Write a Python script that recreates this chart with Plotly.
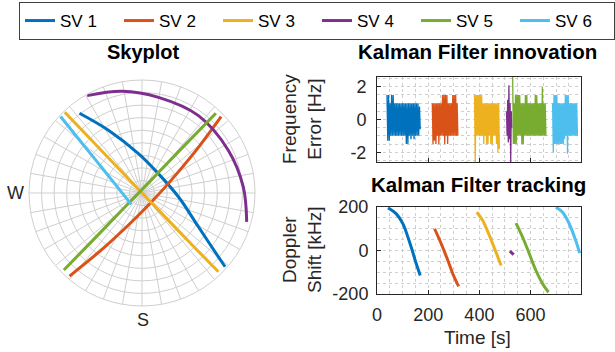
import numpy as np
import plotly.graph_objects as go

W, H = 615, 352
FONT = "Liberation Sans, Arial, Helvetica, sans-serif"
INK = "#262626"
GRID = "#cfcfcf"

names = ["SV 1", "SV 2", "SV 3", "SV 4", "SV 5", "SV 6"]
colors = ["#0072BD", "#D95319", "#EDB120", "#7E2F8E", "#77AC30", "#4DBEEE"]

# ---- Skyplot: azimuth [deg] / elevation [deg] ----
az1 = [321.9, 332.0, 355.2, 30.5, 96.2, 121.0, 129.9, 131.6]
el1 = [9.3, 33.6, 58.7, 69.1, 60.7, 37.5, 10.7, 1.5]
az2 = [221.1, 214.9, 193.7, 134.1, 73.6, 52.2, 46.0]
el2 = [2.2, 36.7, 69.7, 79.6, 69.9, 36.9, 2.4]
az3 = [316.3, 316.3, 316.3, 316.3, 136.0, 136.0, 136.0, 135.9]
el3 = [1.0, 30.0, 60.0, 88.0, 88.0, 60.0, 30.0, 2.6]
az4 = [330.6, 348.9, 9.8, 36.1, 63.8, 86.6, 105.4]
el4 = [1.0, 7.4, 12.7, 13.7, 13.3, 9.2, 3.5]
az5 = [225.4, 226.6, 230.4, 301.6, 37.4, 41.4, 42.8]
el5 = [2.6, 46.1, 72.1, 88.0, 72.9, 46.9, 3.4]
az6 = [313.2, 310.5, 305.3, 290.6, 223.3]
el6 = [1.0, 23.2, 45.1, 65.9, 77.6]

# ---- Kalman filter innovation [Hz] ----
inn_t1 = (39, 169)
inn_v1 = [1.5, -1.3, 1.5, -1.3, 1, -1, 1.5, -1, 1.5, -1, 1, -1, 1, -1, 1, -1, 1, -1, 1, -1, 1, -1,
          1, -1, 1, -1.5, 1, -1.5, 1, -1, 1, -1.2, 1, -1, 1, -1.2, 1, -1, 1, -1, 1, -1, 0.8, -0.6]
inn_t2 = (216, 316)
inn_v2 = [1, -1.5, 1, -1.3, 1, -1.5, 1, -1, 1, -1.5, 1, -1, 1, -1, 1.5, -1, 1.5, -1.5, 1.5, -1,
          1.5, -1.5, 1, -1, 1, -1, 1, -1, 1.5, -1, 1.5, -1, 1.5, -1, 1, -1]
inn_t3 = (381, 478)
inn_v3 = [1.5, -2.6, 1.5, -1, 1.5, -1, 1.5, -1, 1.5, -1, 1.5, -1, 1, -1.5, 1, -1, 1, -1.5, 1, -1.5,
          1, -1, 1, -1.5, 1, -1.5, 1, -1, 1, -1, 1, -1.5, 1, -2, 1, -1.8]
inn_t4 = (506, 527)
inn_v4 = [0.5, -1, 1.2, -1.4, 2.1, -1.2, 1, -2.6, 0.5, -0.5]
inn_t5 = (530, 660)
inn_v5 = [2.6, -1.5, 1, -1.5, 1.5, -1.5, 1.5, -1, 1.5, -1, 1.5, -1, 1, -1.5, 1, -1.5, 1, -1, 1.5, -1,
          1.5, -1, 1, -1, 1, -1, 1, -1, 1, -1, 1, -1, 1.5, -1, 1.5, -1, 1, -1, 1, -1, 1, -1, 2, -1,
          1, -1, 1, -1]
inn_t6 = (686, 783)
inn_v6 = [1, -2, 1.5, -1.5, 1.5, -1.5, 1.5, -1.5, 1, -1.5, 1, -1.5, 1, -1.5, 1, -1.5, 1, -1.2, 1.5, -1,
          1.5, -2.1, 1.5, -1, 1, -1, 1, -1, 1, -1, 1, -1, 1, -1, 1, -1]

# ---- Kalman filter tracking: Doppler shift [kHz] ----
dop_t1 = [43, 75.5, 101.4, 120.9, 137.8, 153.4, 169]
dop_v1 = [196, 168.5, 122.6, 61.3, 0, -61.3, -115]
dop_t2 = [225, 251, 277, 299, 319]
dop_v2 = [100, 31, -46, -115, -165]
dop_t3 = [390, 413, 439, 465, 485]
dop_v3 = [176, 138, 69, -8, -69]
dop_t4 = [519, 534]
dop_v4 = [-3, -19]
dop_t5 = [543, 569, 595, 621, 647, 670]
dop_v5 = [126, 61, -15, -92, -153, -192]
dop_t6 = [699, 725, 751, 774, 792]
dop_v6 = [199, 176, 123, 54, -12]

sky = [(az1, el1), (az2, el2), (az3, el3), (az4, el4), (az5, el5), (az6, el6)]
inn = [(inn_t1, inn_v1), (inn_t2, inn_v2), (inn_t3, inn_v3), (inn_t4, inn_v4), (inn_t5, inn_v5), (inn_t6, inn_v6)]
dop = [(dop_t1, dop_v1), (dop_t2, dop_v2), (dop_t3, dop_v3), (dop_t4, dop_v4), (dop_t5, dop_v5), (dop_t6, dop_v6)]

fig = go.Figure()

for i in range(6):
    az, el = sky[i]
    fig.add_trace(go.Scatterpolar(
        theta=az, r=[90 - e for e in el], mode="lines", name=names[i],
        line=dict(color=colors[i], width=3, shape="spline"), showlegend=True))

for i in range(6):
    (t0, t1), v = inn[i]
    fig.add_trace(go.Scatter(
        x=np.linspace(t0, t1, len(v)), y=v, mode="lines", xaxis="x", yaxis="y",
        line=dict(color=colors[i], width=1.3), showlegend=False, name=names[i]))

for i in range(6):
    t, v = dop[i]
    fig.add_trace(go.Scatter(
        x=t, y=v, mode="lines", xaxis="x2", yaxis="y2",
        line=dict(color=colors[i], width=3, shape="spline"), showlegend=False, name=names[i]))

def px(x):
    return x / W

def py(y):
    return 1 - y / H

axis_common = dict(
    showline=True, linecolor=INK, linewidth=1, mirror=True,
    ticks="inside", ticklen=4, tickcolor=INK,
    showgrid=True, gridcolor=GRID, griddash="dot", gridwidth=1,
    zeroline=False, tickfont=dict(family=FONT, size=18, color=INK),
)

fig.update_layout(
    width=W, height=H, margin=dict(l=0, r=0, t=0, b=0, autoexpand=False),
    paper_bgcolor="white", plot_bgcolor="white",
    font=dict(family=FONT, color=INK),
    polar=dict(
        domain=dict(x=[px(29), px(255)], y=[py(306), py(80)]),
        bgcolor="white",
        radialaxis=dict(range=[0, 90], dtick=10, showticklabels=False, ticks="",
                        gridcolor=GRID, gridwidth=1, showline=False),
        angularaxis=dict(rotation=90, direction="clockwise", dtick=10, showticklabels=False,
                         ticks="", gridcolor=GRID, gridwidth=1, linecolor=GRID, linewidth=1),
    ),
    xaxis=dict(domain=[px(377), px(581)], range=[0, 797], anchor="y", dtick=200, tick0=0,
               showticklabels=False,
               minor=dict(dtick=50, showgrid=True, gridcolor=GRID, griddash="dot", ticks=""),
               **axis_common),
    yaxis=dict(domain=[py(162), py(77)], range=[-2.6, 2.6], anchor="x", tickvals=[-2, 0, 2],
               ticktext=["-2", "0", "2"], ticklabelstandoff=6,
               minor=dict(dtick=0.5, showgrid=True, gridcolor=GRID, griddash="dot", ticks=""),
               **axis_common),
    xaxis2=dict(domain=[px(377), px(581)], range=[0, 797], anchor="y2", tickvals=[0, 200, 400, 600],
                ticklabelstandoff=4,
                minor=dict(dtick=50, showgrid=True, gridcolor=GRID, griddash="dot", ticks=""),
                **axis_common),
    yaxis2=dict(domain=[py(294), py(207)], range=[-200, 200], anchor="x2", tickvals=[-200, 0, 200],
                ticktext=["-200", "0", "200"], ticklabelstandoff=4,
                minor=dict(dtick=50, showgrid=True, gridcolor=GRID, griddash="dot", ticks=""),
                **axis_common),
    legend=dict(orientation="h", x=px(19), y=py(2), xanchor="left", yanchor="top",
                bordercolor="#404040", borderwidth=1, bgcolor="white",
                font=dict(family=FONT, size=17, color="black"),
                entrywidth=54, entrywidthmode="pixels", itemwidth=30),
)

def ann(text, x, y, size, bold=False, angle=0, color="black"):
    fig.add_annotation(
        text=f"<b>{text}</b>" if bold else text, x=px(x), y=py(y), xref="paper", yref="paper",
        showarrow=False, xanchor="center", yanchor="middle", textangle=angle,
        font=dict(family=FONT, size=size, color=color))

ann("Skyplot", 143, 52, 20, bold=True)
ann("Kalman Filter innovation", 477, 52, 20.5, bold=True)
ann("Kalman Filter tracking", 478, 184, 20.5, bold=True)
ann("W", 15, 193, 18, color=INK)
ann("S", 143, 320, 18, color=INK)
ann("Frequency<br>Error [Hz]", 302, 119, 19, angle=-90, color=INK)
ann("Doppler<br>Shift [kHz]", 302, 250, 19, angle=-90, color=INK)
ann("Time [s]", 477, 337, 19, color=INK)

fig.write_html("out.html", config={"displayModeBar": False},
               post_script="document.body.style.margin='0';")
